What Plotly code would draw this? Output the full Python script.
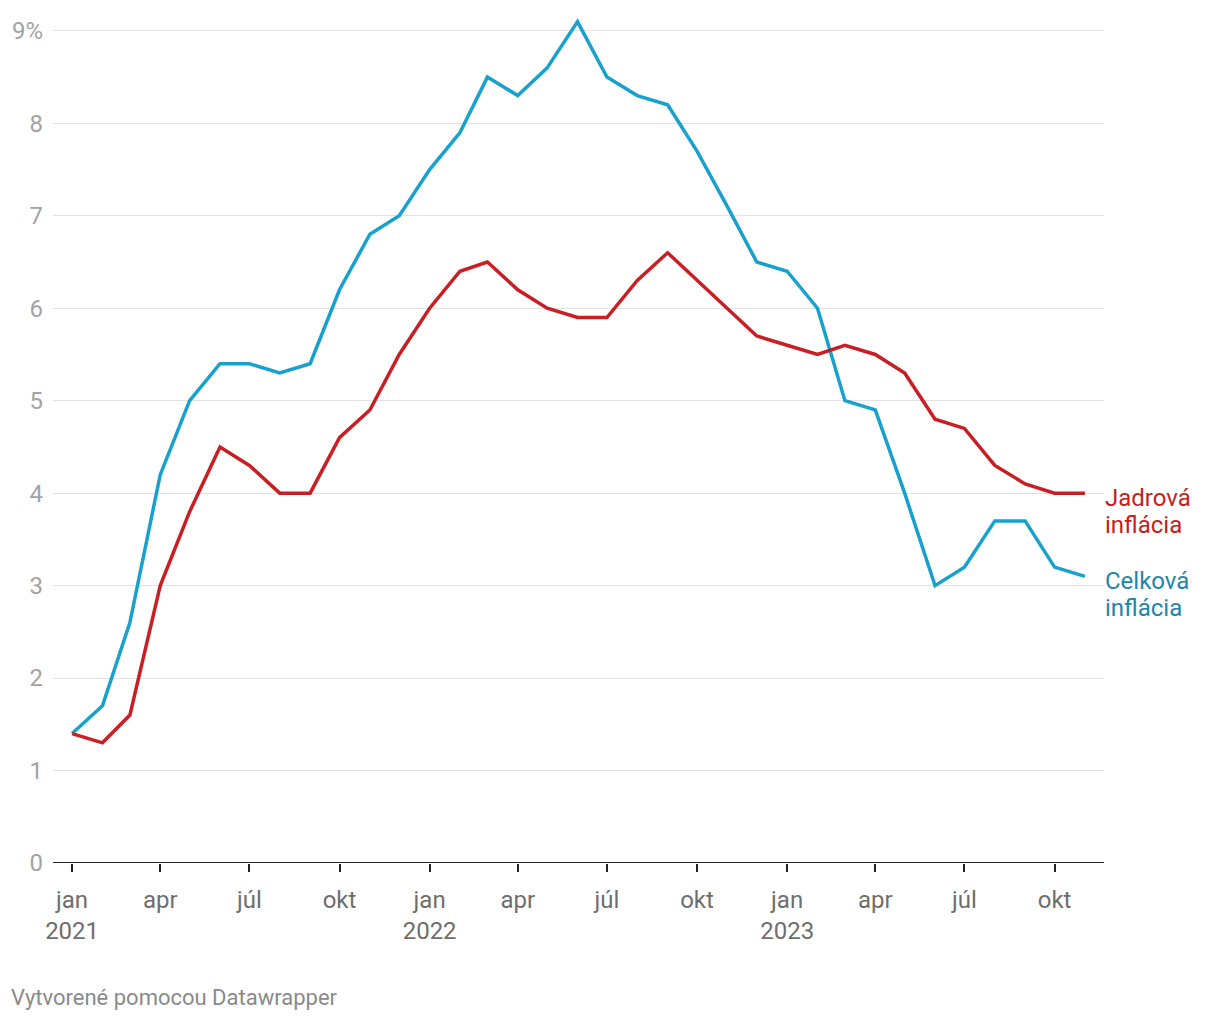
import plotly.graph_objects as go
import pandas as pd

months = pd.date_range("2021-01-01", periods=35, freq="MS")

celkova = [1.4, 1.7, 2.6, 4.2, 5.0, 5.4, 5.4, 5.3, 5.4, 6.2, 6.8, 7.0,
           7.5, 7.9, 8.5, 8.3, 8.6, 9.1, 8.5, 8.3, 8.2, 7.7, 7.1, 6.5,
           6.4, 6.0, 5.0, 4.9, 4.0, 3.0, 3.2, 3.7, 3.7, 3.2, 3.1]
jadrova = [1.4, 1.3, 1.6, 3.0, 3.8, 4.5, 4.3, 4.0, 4.0, 4.6, 4.9, 5.5,
           6.0, 6.4, 6.5, 6.2, 6.0, 5.9, 5.9, 6.3, 6.6, 6.3, 6.0, 5.7,
           5.6, 5.5, 5.6, 5.5, 5.3, 4.8, 4.7, 4.3, 4.1, 4.0, 4.0]

y_ticks = [0, 1, 2, 3, 4, 5, 6, 7, 8, 9]
y_ticktext = ["0", "1", "2", "3", "4", "5", "6", "7", "8", "9%"]

x_tickvals = ["2021-01-01", "2021-04-01", "2021-07-01", "2021-10-01",
              "2022-01-01", "2022-04-01", "2022-07-01", "2022-10-01",
              "2023-01-01", "2023-04-01", "2023-07-01", "2023-10-01"]
x_ticktext = ["jan<br>2021", "apr", "júl", "okt",
              "jan<br>2022", "apr", "júl", "okt",
              "jan<br>2023", "apr", "júl", "okt"]

RED = "#c91f24"
BLUE = "#18a1cd"
FONT = "Roboto"

fig = go.Figure()
fig.add_trace(go.Scatter(x=months, y=celkova, mode="lines",
                         line=dict(color=BLUE, width=3.5), name="Celková inflácia",
                         hoverinfo="skip"))
fig.add_trace(go.Scatter(x=months, y=jadrova, mode="lines",
                         line=dict(color=RED, width=3.5), name="Jadrová inflácia",
                         hoverinfo="skip"))

labels = [("Jadrová", "inflácia", jadrova[-1], "#c71e1d"),
          ("Celková", "inflácia", celkova[-1], "#1d87ab")]
for l1, l2, yv, col in labels:
    for txt, sh in ((l1, -5), (l2, -32)):
        fig.add_annotation(x=1, xref="paper", y=yv, yref="y",
                           text=txt, showarrow=False,
                           xanchor="left", yanchor="middle", align="left",
                           xshift=-1, yshift=sh,
                           font=dict(family=FONT, size=24, color=col))

fig.add_annotation(x=0, xref="paper", y=0, yref="paper",
                   text="Vytvorené pomocou Datawrapper", showarrow=False,
                   xanchor="left", yanchor="middle",
                   xshift=-44, yshift=-134,
                   font=dict(family=FONT, size=22, color="#8a8a8a"))

fig.update_layout(
    width=1212, height=1012,
    margin=dict(l=45, r=116, t=9, b=157, autoexpand=False),
    paper_bgcolor="white", plot_bgcolor="white",
    showlegend=False,
    font=dict(family=FONT),
    xaxis=dict(
        type="date", automargin=False,
        range=["2020-12-12 12:00", "2023-11-20 12:00"],
        tickvals=x_tickvals, ticktext=x_ticktext,
        ticks="outside", ticklen=8, tickwidth=2, tickcolor="#222",
        showgrid=False, showline=False, zeroline=False,
        ticklabelstandoff=7,
        tickfont=dict(family=FONT, size=24, color="#6e6e6e"),
    ),
    yaxis=dict(
        automargin=False,
        range=[0, 9.15],
        tickvals=y_ticks, ticktext=y_ticktext,
        showgrid=True, gridcolor="#e2e2e2", gridwidth=1,
        zeroline=False, showline=False,
        ticks="", ticklabelstandoff=9,
        tickfont=dict(family=FONT, size=24, color="#a3a3a3"),
    ),
)
fig.add_shape(type="line", xref="paper", yref="y", x0=0, x1=1, y0=0, y1=0,
              line=dict(color="#222", width=2), layer="above")

fig.write_html("out.html")
